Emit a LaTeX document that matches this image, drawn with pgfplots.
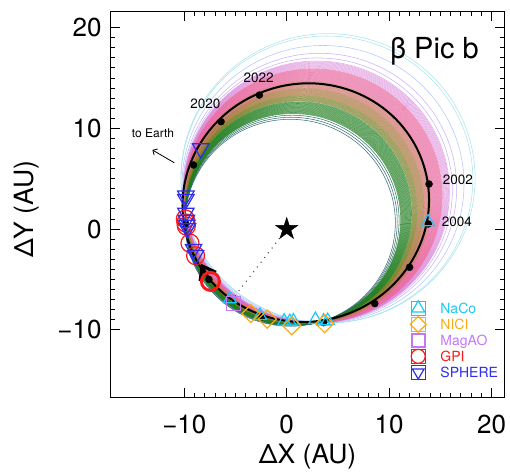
\documentclass[border=0pt]{standalone}
\usepackage{fontspec}
\setmainfont{TeX Gyre Heros}
\usepackage{pgfplots}
\pgfplotsset{compat=1.18}
\usetikzlibrary{arrows.meta}

% instrument colours
\definecolor{nacoc}{RGB}{25,200,250}
\definecolor{nicic}{RGB}{250,170,20}
\definecolor{magaoc}{RGB}{195,120,250}
\definecolor{gpic}{RGB}{250,25,25}
\definecolor{spherec}{RGB}{45,45,235}

% colours of the sampled orbits, from the widest to the tightest
\definecolor{ringA}{RGB}{150,220,232}
\definecolor{ringB}{RGB}{160,185,250}
\definecolor{ringC}{RGB}{190,160,245}
\definecolor{ringD}{RGB}{215,125,215}
\definecolor{ringE}{RGB}{232,105,160}
\definecolor{ringF}{RGB}{205,115,105}
\definecolor{ringG}{RGB}{170,120,65}
\definecolor{ringH}{RGB}{120,125,35}
\definecolor{ringI}{RGB}{30,125,30}
\definecolor{ringJ}{RGB}{40,100,100}

% filled five-pointed star for the host star
\pgfdeclareplotmark{fivestar}{%
  \pgfpathmoveto{\pgfpointpolar{90}{\pgfplotmarksize}}%
  \pgfpathlineto{\pgfpointpolar{126}{0.382\pgfplotmarksize}}%
  \pgfpathlineto{\pgfpointpolar{162}{\pgfplotmarksize}}%
  \pgfpathlineto{\pgfpointpolar{198}{0.382\pgfplotmarksize}}%
  \pgfpathlineto{\pgfpointpolar{234}{\pgfplotmarksize}}%
  \pgfpathlineto{\pgfpointpolar{270}{0.382\pgfplotmarksize}}%
  \pgfpathlineto{\pgfpointpolar{306}{\pgfplotmarksize}}%
  \pgfpathlineto{\pgfpointpolar{342}{0.382\pgfplotmarksize}}%
  \pgfpathlineto{\pgfpointpolar{18}{\pgfplotmarksize}}%
  \pgfpathlineto{\pgfpointpolar{54}{0.382\pgfplotmarksize}}%
  \pgfpathclose
  \pgfusepathqfillstroke}

% one sampled orbit; every orbit runs through both ends of the observed arc,
% (-9.9,1.5) and (3,-9.3); #1 = offset of its centre along the bisector
\newcommand\orbitring[3]{%
  \pgfmathsetmacro\rcx{-3.45+0.642*#1}%
  \pgfmathsetmacro\rcy{-3.9+0.767*#1}%
  \pgfmathsetmacro\rr{sqrt(70.7+(#1)*(#1))}%
  \edef\next{\noexpand\draw[#2,line width=0.55pt,opacity=#3]
    (axis cs:\rcx,\rcy) circle[radius=\rr];}%
  \next}

\begin{document}
\begin{tikzpicture}
\useasboundingbox (-110.7pt,-75.7pt) rectangle (399.3pt,397.3pt);
\begin{axis}[
  at={(0pt,0pt)}, anchor=south west,
  scale only axis, width=393.6pt, height=385.6pt,
  xmin=-17.19, xmax=21.25, ymin=-16.71, ymax=21.58,
  axis line style={line width=0.8pt},
  xtick={-10,0,10,20}, ytick={-10,0,10,20},
  xticklabels={−10,0,10,20}, yticklabels={−10,0,10,20},
  minor x tick num=9, minor y tick num=9,
  tick pos=both, ticklabel pos=left, tick align=inside,
  major tick length=9pt, minor tick length=4.5pt,
  every tick/.style={black, line width=0.8pt},
  xticklabel style={font=\fontsize{26}{26}\selectfont, inner sep=0pt, yshift=-17.7pt},
  yticklabel style={font=\fontsize{26}{26}\selectfont, inner sep=0pt, xshift=-9pt},
  xlabel={ΔX (AU)}, ylabel={ΔY (AU)},
  label style={font=\fontsize{26.5}{26.5}\selectfont},
  x label style={at={(axis description cs:0.5,-0.1535)}, anchor=center},
  y label style={at={(axis description cs:-0.2134,0.4878)}, anchor=center},
  legend style={at={(axis cs:12.14,-7.08)}, anchor=north west, draw=none, fill=none,
    inner sep=0pt, outer sep=0pt, row sep=0pt, font=\fontsize{14}{14}\selectfont,
    nodes={inner sep=0pt, text height=13pt, text depth=3pt}},
  legend cell align=left,
  legend image code/.code={\draw[#1,overlay] plot coordinates {(7pt,0pt)};
    \path (0pt,-7pt) rectangle (14pt,7pt);},
]
% sampled orbits, widest first
\foreach \d in {11.65,11.5}{\orbitring{\d}{ringA}{0.8}}
\foreach \d in {10.9}{\orbitring{\d}{ringB}{0.8}}
\foreach \d in {10.4,10.1}{\orbitring{\d}{ringC}{0.8}}
\foreach \d in {9.9,9.85,...,9.42}{\orbitring{\d}{ringD}{0.65}}
\foreach \d in {9.4,9.375,...,8.6}{\orbitring{\d}{ringE}{0.6}}
\foreach \d in {8.575,8.55,...,8.1}{\orbitring{\d}{ringF}{0.6}}
\foreach \d in {8.075,8.05,...,7.6}{\orbitring{\d}{ringG}{0.6}}
\foreach \d in {7.57,7.54,...,7.2}{\orbitring{\d}{ringH}{0.65}}
\foreach \d in {7.16,7.12,...,6.3}{\orbitring{\d}{ringI}{0.75}}
\foreach \d in {6.2,6.05,5.9}{\orbitring{\d}{ringJ}{0.9}}

% best-fit orbit
\draw[black,line width=2pt] (axis cs:1.86,2.62) ellipse[x radius=12.08,y radius=11.8,rotate=18];

% line from the star towards the planet
\addplot[black!70, line width=1.5pt, line cap=round, dash pattern=on 0pt off 6pt, forget plot]
  coordinates {(0,0) (-5.4,-7.1)};
% host star
\addplot[only marks, mark=fivestar, mark size=11.6pt, black, forget plot] coordinates {(0,0)};
% predicted positions, every two years 2002-2022
\addplot[only marks, mark=*, mark size=3.5pt, black, forget plot] coordinates {
  (13.9,4.47) (13.83,0.5) (12.0,-3.8) (8.6,-7.4) (3.6,-9.3) (-2.4,-8.7)
  (-7.6,-5.0) (-9.85,0.5) (-9.1,6.36) (-6.41,10.66) (-2.67,13.3)};
% direction of motion
\addplot[black, line width=2pt, -{Straight Barb[length=12pt,width=18pt,line width=3.2pt]}, forget plot]
  coordinates {(-7.7,-4.7) (-8.37,-3.45)};
% towards Earth
\addplot[black, line width=0.8pt, -{Straight Barb[length=3.5pt,width=7pt]}, forget plot]
  coordinates {(-10.98,6.58) (-13.12,7.85)};

% astrometry
\addplot[only marks, nacoc, mark=triangle, mark size=7.5pt, mark options={line width=1.2pt}]
  coordinates {(13.8,0.7) (-5.55,-6.95) (-2.6,-8.6) (-0.25,-9.15) (0.3,-9.2) (0.65,-9.15)
  (2.8,-9.0) (3.6,-9.15) (4.0,-9.1)};
\addlegendentry{\hspace{15pt}\textcolor{nacoc}{NaCo}}
\addplot[only marks, nicic, mark=square, mark size=6.4pt, mark options={rotate=45,line width=1.2pt},
  legend image post style={mark size=5.6pt}]
  coordinates {(-3.5,-8.4) (-1.9,-8.95) (0.5,-9.6) (3.7,-9.4)};
\addlegendentry{\hspace{15pt}\textcolor{nicic}{NICI}}
\addplot[only marks, magaoc, mark=square, mark size=7pt, mark options={line width=1.2pt},
  legend image post style={mark size=6pt}]
  coordinates {(-5.2,-7.4)};
\addlegendentry{\hspace{15pt}\textcolor{magaoc}{MagAO}}
\addplot[only marks, gpic, mark=o, mark size=9pt, mark options={line width=1.2pt},
  legend image post style={mark size=7pt}]
  coordinates {(-9.9,1.0) (-9.85,0.6) (-9.8,0.3) (-9.45,-1.4) (-8.9,-2.65)};
\addlegendentry{\hspace{15pt}\textcolor{gpic}{GPI}}
\addplot[only marks, spherec, mark=triangle, mark size=9.5pt, mark options={rotate=180,line width=1.2pt},
  legend image post style={mark size=6.8pt}]
  coordinates {(-8.4,8.0) (-9.85,3.3) (-9.85,2.95) (-9.85,1.6) (-9.8,0.9) (-9.75,0.4)
  (-9.7,0.05) (-9.1,-2.0) (-8.9,-2.6)};
\addlegendentry{\hspace{15pt}\textcolor{spherec}{SPHERE}}
\addplot[only marks, gpic, mark=o, mark size=9pt, mark options={line width=3pt}, forget plot]
  coordinates {(-7.45,-5.2)};

% annotations
\node[anchor=base west, inner sep=0pt, font=\fontsize{29}{29}\selectfont] at (axis cs:10.09,16.95) {β Pic b};
\node[anchor=base west, inner sep=0pt, font=\fontsize{13.5}{13.5}\selectfont] at (axis cs:15.23,4.44) {2002};
\node[anchor=base west, inner sep=0pt, font=\fontsize{13.5}{13.5}\selectfont] at (axis cs:15.14,0.23) {2004};
\node[anchor=base west, inner sep=0pt, font=\fontsize{13.5}{13.5}\selectfont] at (axis cs:-9.44,11.99) {2020};
\node[anchor=base west, inner sep=0pt, font=\fontsize{13.5}{13.5}\selectfont] at (axis cs:-4.24,14.53) {2022};
\node[anchor=base west, inner sep=0pt, font=\fontsize{12}{12}\selectfont] at (axis cs:-15.14,9.1) {to Earth};
\end{axis}
\end{tikzpicture}
\end{document}
